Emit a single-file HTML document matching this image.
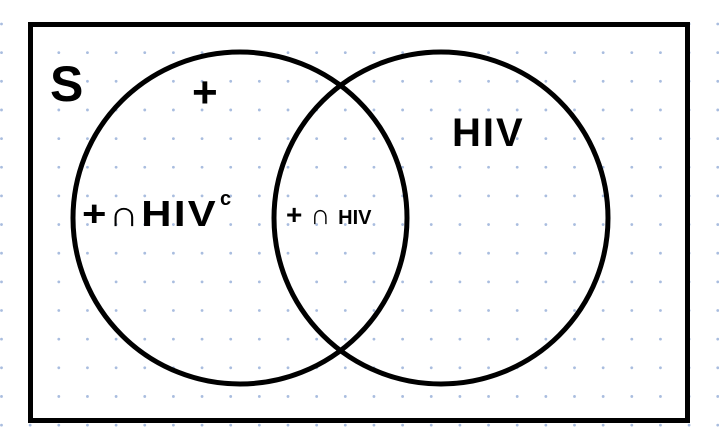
<!DOCTYPE html>
<html><head><meta charset="utf-8"><style>
html,body{margin:0;padding:0;background:#fff;width:719px;height:434px;overflow:hidden}
svg{display:block}
text{font-family:"Liberation Sans",sans-serif;font-weight:bold;fill:#000}
</style></head><body>
<svg id="c" width="719" height="434" viewBox="0 0 719 434">
<g id="dots"></g>
<rect x="30.5" y="24.5" width="657" height="396" fill="none" stroke="#000" stroke-width="5"/>
<ellipse cx="240" cy="218" rx="167" ry="166" fill="none" stroke="#000" stroke-width="5"/>
<ellipse cx="441" cy="218" rx="167" ry="166" fill="none" stroke="#000" stroke-width="5"/>
<text x="50" y="101" font-size="50" font-weight="normal">S</text>
<text x="192" y="107" font-size="44">+</text>
<text x="452" y="146" font-size="40" letter-spacing="2">HIV</text>
<text x="82" y="226" font-size="36" letter-spacing="2" textLength="136" lengthAdjust="spacingAndGlyphs">+∩HIV</text>
<text x="220" y="205" font-size="20">c</text>
<text x="286" y="224" font-size="28">+ ∩ <tspan font-size="20">HIV</tspan></text>
</svg>
<script>
const g=document.getElementById('dots');
for(let i=0;i<26;i++){for(let j=0;j<16;j++){
 const c=document.createElementNS('http://www.w3.org/2000/svg','circle');
 
 
 c.setAttribute('cx',1.5+i*28.65);c.setAttribute('cy',24+j*28.65);
 c.setAttribute('r',1.4);c.setAttribute('fill','#a9bddf');g.appendChild(c);}}
</script>
</body></html>
